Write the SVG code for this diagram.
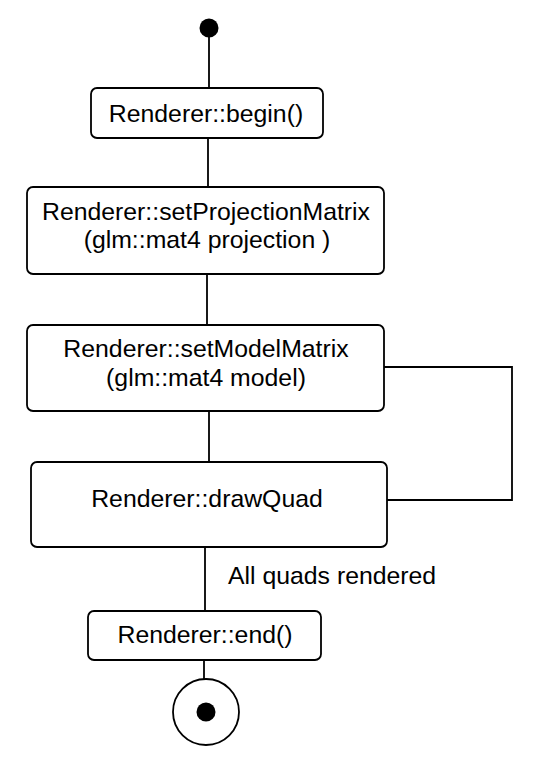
<svg xmlns="http://www.w3.org/2000/svg" width="544" height="774" viewBox="0 0 544 774">
<style>
.box{fill:#fff;stroke:#000;stroke-width:1.8}
.ln{fill:none;stroke:#000;stroke-width:1.8}
text{font-family:"Liberation Sans",Arial,sans-serif;font-size:24.8px;fill:#000;text-anchor:middle}
</style>
<rect width="544" height="774" fill="#fff"/>
<g id="connectors">
<line class="ln" x1="209" y1="28" x2="209" y2="88"/>
<line class="ln" x1="208" y1="138" x2="208" y2="187"/>
<line class="ln" x1="207" y1="274" x2="207" y2="325"/>
<line class="ln" x1="209" y1="411" x2="209" y2="462"/>
<polyline class="ln" points="384,367 512,367 512,500 387,500"/>
<line class="ln" x1="205" y1="547" x2="205" y2="611"/>
<line class="ln" x1="204" y1="660" x2="204" y2="679"/>
<text x="228" y="584" style="text-anchor:start">All quads rendered</text>
</g>
<g id="start"><circle cx="209" cy="28" r="9.5" fill="#000"/></g>
<g id="begin">
<rect class="box" x="91" y="88" width="232" height="50" rx="6"/>
<text x="206" y="122">Renderer::begin()</text>
</g>
<g id="setProjection">
<rect class="box" x="27" y="187" width="357" height="87" rx="6"/>
<text x="206" y="220">Renderer::setProjectionMatrix</text>
<text x="207" y="248">(glm::mat4 projection )</text>
</g>
<g id="setModel">
<rect class="box" x="27" y="325" width="357" height="86" rx="6"/>
<text x="206" y="357">Renderer::setModelMatrix</text>
<text x="206" y="386">(glm::mat4 model)</text>
</g>
<g id="drawQuad">
<rect class="box" x="31" y="462" width="356" height="85" rx="6"/>
<text x="207" y="507">Renderer::drawQuad</text>
</g>
<g id="end">
<rect class="box" x="88" y="611" width="233" height="49" rx="6"/>
<text x="205" y="643">Renderer::end()</text>
</g>
<g id="final">
<circle cx="206" cy="712" r="33" fill="#fff" stroke="#000" stroke-width="1.8"/>
<circle cx="206" cy="712" r="9.5" fill="#000"/>
</g>
</svg>
